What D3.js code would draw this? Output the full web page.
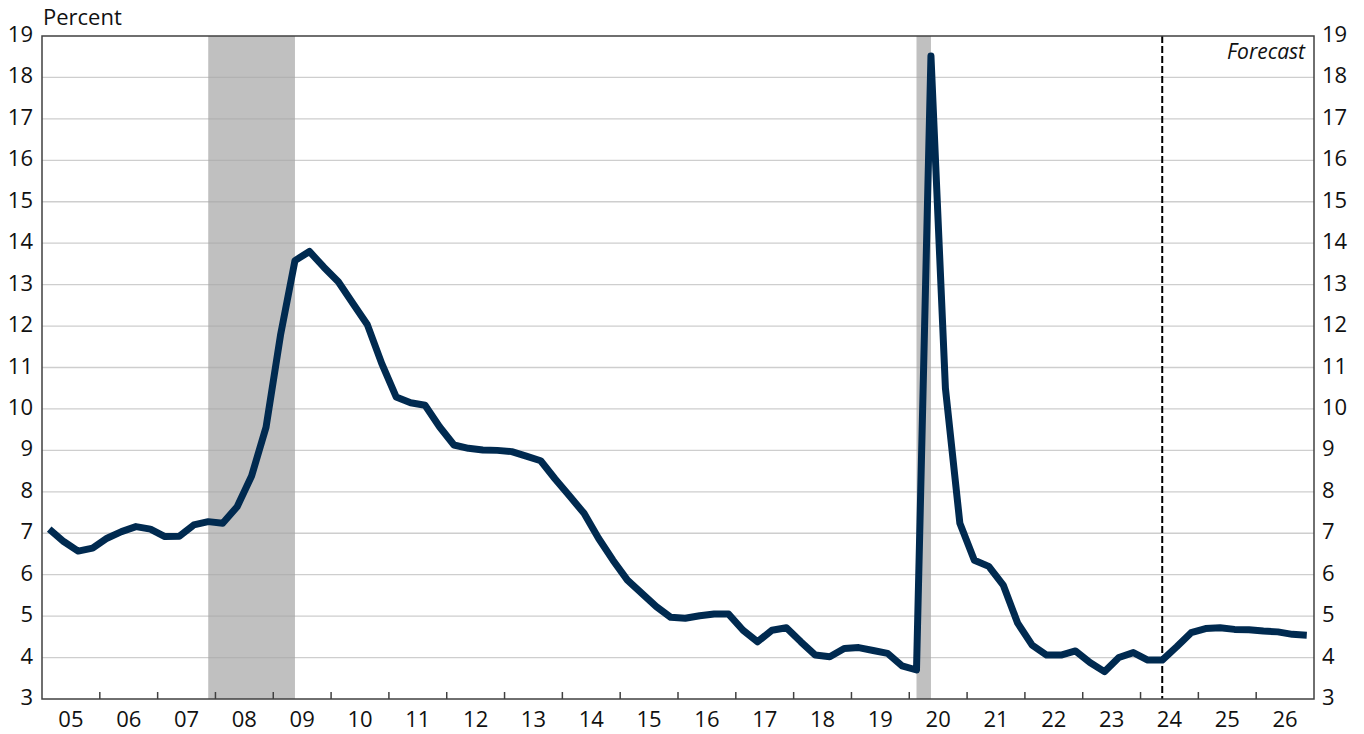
<!DOCTYPE html>
<html>
<head>
<meta charset="utf-8">
<script src="https://cdn.jsdelivr.net/npm/d3@7"></script>
<style>
  html, body { margin: 0; padding: 0; background: #ffffff; }
  svg { display: block; font-family: "Open Sans", "DejaVu Sans", sans-serif; }
</style>
</head>
<body>
<svg id="chart" width="1364" height="734"></svg>
<script>
// ---- Data ----
const startYear = 2005;
const endYear = 2027;
const yearLabels = ["05","06","07","08","09","10","11","12","13","14","15","16","17","18","19","20","21","22","23","24","25","26"];
const yTicks = [3,4,5,6,7,8,9,10,11,12,13,14,15,16,17,18,19];
// Quarterly values, 2005Q1 .. 2026Q4 (percent)
const values = [
  7.10, 6.80, 6.57, 6.64,
  6.88, 7.04, 7.16, 7.10,
  6.92, 6.93, 7.20, 7.28,
  7.24, 7.64, 8.38, 9.56,
  11.78, 13.58, 13.80, 13.42,
  13.07, 12.55, 12.04, 11.10,
  10.29, 10.15, 10.09, 9.57,
  9.13, 9.05, 9.01, 9.00,
  8.97, 8.86, 8.75, 8.31,
  7.90, 7.48, 6.88, 6.35,
  5.87, 5.55, 5.23, 4.97,
  4.95, 5.01, 5.05, 5.05,
  4.66, 4.38, 4.66, 4.72,
  4.38, 4.06, 4.02, 4.22,
  4.24, 4.17, 4.10, 3.80,
  3.70, 18.52, 10.50, 7.24,
  6.35, 6.20, 5.75, 4.83,
  4.30, 4.06, 4.06, 4.16,
  3.88, 3.66, 4.00, 4.12,
  3.94, 3.94, 4.26, 4.60,
  4.70, 4.72, 4.68, 4.67,
  4.64, 4.62, 4.56, 4.54
];
// Recession periods (start quarter, end quarter)
const recessions = [["2007Q4","2009Q2"],["2020Q1","2020Q2"]];
const forecastStart = "2024Q2";
const yLabel = "Percent";
const forecastLabel = "Forecast";

// ---- Helpers ----
function quarterMid(q) { // "YYYYQn" -> fractional year at quarter midpoint
  const y = +q.slice(0,4), n = +q.slice(5);
  return y + (n - 0.5) / 4;
}
const data = values.map((v, i) => ({ t: startYear + (i + 0.5) / 4, v }));

// ---- Layout ----
const svg = d3.select("#chart");
const L = 42, R = 1314, T = 36, B = 699;
const x = d3.scaleLinear().domain([startYear, endYear]).range([L, R]);
const y = d3.scaleLinear().domain([3, 19]).range([B, T]);
const fontSize = 22;

// Recession shading
svg.append("g").selectAll("rect").data(recessions).join("rect")
  .attr("x", d => x(quarterMid(d[0])))
  .attr("width", d => x(quarterMid(d[1])) - x(quarterMid(d[0])))
  .attr("y", T).attr("height", B - T)
  .attr("fill", "#c0c0c0");

// Gridlines
svg.append("g").selectAll("line").data(yTicks.filter(t => t > 3 && t < 19)).join("line")
  .attr("x1", L).attr("x2", R)
  .attr("y1", d => y(d)).attr("y2", d => y(d))
  .attr("stroke", "#a6a6a6").attr("stroke-opacity", 0.55).attr("stroke-width", 1.3);

// Forecast dashed line
svg.append("line")
  .attr("x1", x(quarterMid(forecastStart))).attr("x2", x(quarterMid(forecastStart)))
  .attr("y1", T).attr("y2", B)
  .attr("stroke", "#000").attr("stroke-width", 2).attr("stroke-dasharray", "7,3");

// Series line
svg.append("path").datum(data)
  .attr("fill", "none")
  .attr("stroke", "#002a50")
  .attr("stroke-width", 7)
  .attr("stroke-linejoin", "round")
  .attr("stroke-linecap", "butt")
  .attr("d", d3.line().x(d => x(d.t)).y(d => y(d.v)));

// Frame
svg.append("rect")
  .attr("x", L).attr("y", T).attr("width", R - L).attr("height", B - T)
  .attr("fill", "none").attr("stroke", "#404040").attr("stroke-width", 1.5);

// X axis ticks (year boundaries, pointing up)
const yearBounds = d3.range(startYear + 1, endYear);
svg.append("g").selectAll("line").data(yearBounds).join("line")
  .attr("x1", d => x(d)).attr("x2", d => x(d))
  .attr("y1", B).attr("y2", B - 7)
  .attr("stroke", "#404040").attr("stroke-width", 1.5);

// X axis labels (centered in each year)
svg.append("g").selectAll("text").data(yearLabels).join("text")
  .attr("x", (d, i) => x(startYear + i + 0.5))
  .attr("y", 727)
  .attr("text-anchor", "middle")
  .attr("font-size", fontSize)
  .attr("fill", "#111")
  .text(d => d);

// Left Y labels
svg.append("g").selectAll("text").data(yTicks).join("text")
  .attr("x", 33).attr("y", d => y(d) + 6)
  .attr("text-anchor", "end")
  .attr("font-size", fontSize).attr("fill", "#111")
  .text(d => d);

// Right Y labels
svg.append("g").selectAll("text").data(yTicks).join("text")
  .attr("x", 1322).attr("y", d => y(d) + 6)
  .attr("text-anchor", "start")
  .attr("font-size", fontSize).attr("fill", "#111")
  .text(d => d);

// Unit label
svg.append("text")
  .attr("x", 43).attr("y", 25)
  .attr("font-size", fontSize).attr("fill", "#111")
  .text(yLabel);

// Forecast label
svg.append("text")
  .attr("x", 1305).attr("y", 59)
  .attr("text-anchor", "end")
  .attr("font-style", "italic")
  .attr("font-size", fontSize - 1).attr("fill", "#111")
  .text(forecastLabel);
</script>
</body>
</html>
